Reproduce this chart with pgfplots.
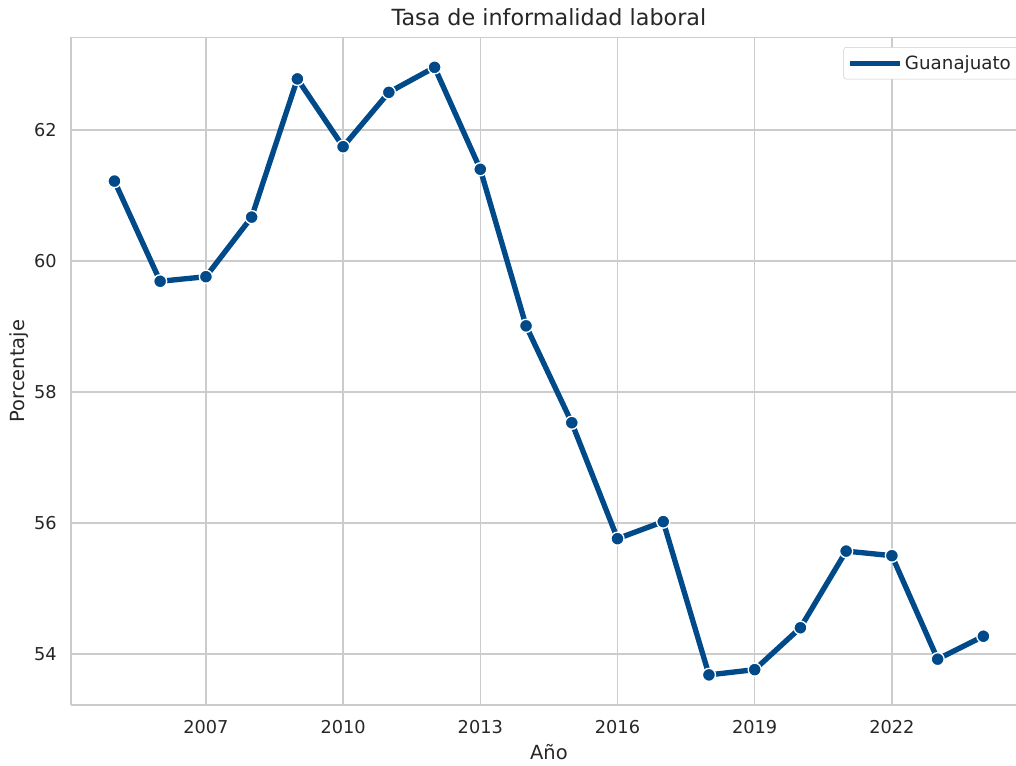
\documentclass[border=0pt]{standalone}
\usepackage{pgfplots}
\pgfplotsset{compat=1.18}
\usepackage{fontspec}
\setmainfont{DejaVu Sans}
\definecolor{linec}{HTML}{004A8A}
\definecolor{gridc}{HTML}{CCCCCC}
\definecolor{textc}{HTML}{262626}
\begin{document}
\begin{tikzpicture}
\useasboundingbox (-53.25pt,-45pt) rectangle (708.75pt,528.75pt);
\begin{axis}[
  at={(0pt,0pt)}, anchor=south west,
  scale only axis,
  width=716.85pt, height=501pt,
  xmin=2004.05, xmax=2024.95,
  ymin=53.22, ymax=63.42,
  xtick={2007,2010,2013,2016,2019,2022},
  ytick={54,56,58,60,62},
  xticklabel style={anchor=base, yshift=-21pt, inner sep=0pt},
  yticklabel style={anchor=east, xshift=-10.5pt, inner sep=0pt},
  /pgf/number format/assume math mode=true,
  /pgf/number format/1000 sep={},
  tick label style={font=\fontsize{13.3}{16}\selectfont, text=textc},
  major tick length=0pt,
  grid=major,
  major grid style={color=gridc, line width=1pt},
  axis line style={color=gridc, line width=1pt},
  axis x line*=bottom,
  axis y line*=left,
  title={Tasa de informalidad laboral},
  title style={at={(axis description cs:0.5,1)}, anchor=base, yshift=2.25pt, inner sep=0pt, font=\fontsize{16.7}{19}\selectfont, text=textc},
  xlabel={Año},
  xlabel style={at={(axis description cs:0.5,0)}, anchor=base, yshift=-40.5pt, inner sep=0pt, font=\fontsize{14.6}{17}\selectfont, text=textc},
  ylabel={Porcentaje},
  ylabel style={at={(axis description cs:0,0.5)}, anchor=base, yshift=34.5pt, inner sep=0pt, font=\fontsize{14.6}{17}\selectfont, text=textc},
  legend style={at={(axis description cs:1,1)}, anchor=north east, xshift=-6.75pt, yshift=-7.5pt,
    draw=gridc, rounded corners=2pt, fill=white, font=\fontsize{13.7}{16}\selectfont, text=textc,
    inner xsep=3pt, inner ysep=4pt},
  legend cell align=left,
  legend image code/.code={\path (0pt,0pt) -- (37pt,0pt); \draw[linec, line width=3pt] (0pt,0pt) -- (29.25pt,0pt);},
]
\draw[gridc, line width=1pt] (rel axis cs:0,1) -- (rel axis cs:1,1);
\addplot[color=linec, line width=4pt, mark=*, mark size=4.9pt,
  mark options={fill=linec, draw=white, line width=1pt}]
coordinates {
(2005,61.22) (2006,59.69) (2007,59.76) (2008,60.67) (2009,62.78)
(2010,61.745) (2011,62.575) (2012,62.957) (2013,61.40) (2014,59.01)
(2015,57.53) (2016,55.76) (2017,56.02) (2018,53.68) (2019,53.76)
(2020,54.40) (2021,55.57) (2022,55.50) (2023,53.92) (2024,54.27)
};
\addlegendentry{Guanajuato}
\end{axis}
\end{tikzpicture}
\end{document}
